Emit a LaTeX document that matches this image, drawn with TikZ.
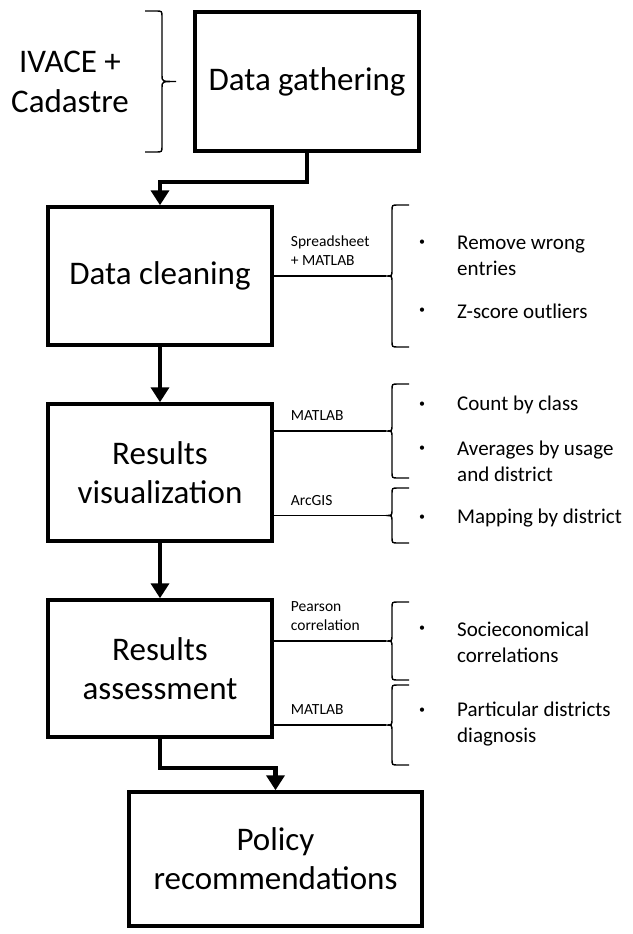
\documentclass[tikz,border=0pt]{standalone}
\usepackage{fontspec}
\setmainfont{Carlito}
\usetikzlibrary{arrows.meta}

% curly bracket: tip name, x, top, bottom, side of the hooks (1 or -1), tip depth
\newcommand{\curly}[6]{%
\coordinate (#1) at ({#2-#6*#5},{(#3+#4)/2});
\draw[curlyline] ({#2+17*#5},#3) -- ({#2+6*#5},#3) .. controls (#2,#3) .. (#2,{#3+6})
 -- (#2,{(#3+#4)/2-6}) .. controls (#2,{(#3+#4)/2}) .. (#1)
 .. controls (#2,{(#3+#4)/2}) .. (#2,{(#3+#4)/2+6})
 -- (#2,{#4-6}) .. controls (#2,#4) .. ({#2+6*#5},#4) -- ({#2+17*#5},#4);}

\begin{document}
\begin{tikzpicture}[x=1pt,y=-1pt,
box/.style={draw, line width=3.5pt, minimum width=224pt, align=center, font=\fontsize{33}{39}\selectfont},
tool/.style={anchor=south west, align=left, inner sep=1pt, xshift=16pt, yshift=9pt, font=\fontsize{15.5}{19.5}\selectfont},
item/.style={anchor=west, align=left, inner sep=0pt, font=\fontsize{21}{26}\selectfont},
bulletnode/.style={inner sep=0pt, font=\fontsize{12}{14}\selectfont},
flow/.style={line width=4.5pt, -{Triangle[length=15pt,width=18pt]}},
link/.style={line width=1.4pt},
curlyline/.style={line width=1.4pt}]
\useasboundingbox (0,0) rectangle (632,934);

\node[box, minimum height=139pt] (gather) at (307,81.5) {Data gathering};
\node[box, minimum height=138pt] (clean) at (160,276) {Data cleaning};
\node[box, minimum height=137pt] (visual) at (160,472.5) {Results\\visualization};
\node[box, minimum height=137pt] (assess) at (160,668.5) {Results\\assessment};
\node[box, minimum width=293pt, minimum height=134pt] (policy) at (275.5,859) {Policy\\recommendations};

\node[align=center, font=\fontsize{33}{40}\selectfont] (source) at (70,82) {IVACE +\\Cadastre};
\curly{s0}{162}{11}{152}{-1}{14}

\draw[flow] (gather.south) -- ++(0,29) -| (clean.north);
\draw[flow] (clean.south) -- (visual.north);
\draw[flow] (visual.south) -- (assess.north);
\draw[flow] (assess.south) -- ++(0,29) -| (policy.north);

\curly{c1}{392}{205}{347}{1}{6}
\curly{c2}{392}{384}{478}{1}{6}
\curly{c3}{392}{488}{543}{1}{6}
\curly{c4}{392}{602}{680}{1}{6}
\curly{c5}{392}{685}{765}{1}{6}

\draw[link] (clean.east |- c1) -- (c1);
\draw[link] (visual.east |- c2) -- (c2);
\draw[link] (visual.east |- c3) -- (c3);
\draw[link] (assess.east |- c4) -- (c4);
\draw[link] (assess.east |- c5) -- (c5);

\node[tool] (t1) at (clean.east |- c1) {Spreadsheet\\+ MATLAB};
\node[tool] (t2) at (visual.east |- c2) {MATLAB};
\node[tool] (t3) at (visual.east |- c3) {ArcGIS};
\node[tool] (t4) at (assess.east |- c4) {Pearson\\correlation};
\node[tool] (t5) at (assess.east |- c5) {MATLAB};

\node[bulletnode] (b1) at (422,243) {\textbullet};
\node[item] (i1) at (457,256) {Remove wrong\\entries};
\node[bulletnode] (b2) at (422,311) {\textbullet};
\node[item] (i2) at (457,311) {Z-score outliers};
\node[bulletnode] (b3) at (422,405) {\textbullet};
\node[item] (i3) at (457,405) {Count by class};
\node[bulletnode] (b4) at (422,449) {\textbullet};
\node[item] (i4) at (457,461) {Averages by usage\\and district};
\node[bulletnode] (b5) at (422,518) {\textbullet};
\node[item] (i5) at (457,518) {Mapping by district};
\node[bulletnode] (b6) at (422,629) {\textbullet};
\node[item] (i6) at (457,642) {Socieconomical\\correlations};
\node[bulletnode] (b7) at (422,711) {\textbullet};
\node[item] (i7) at (457,724) {Particular districts\\diagnosis};
\end{tikzpicture}
\end{document}
